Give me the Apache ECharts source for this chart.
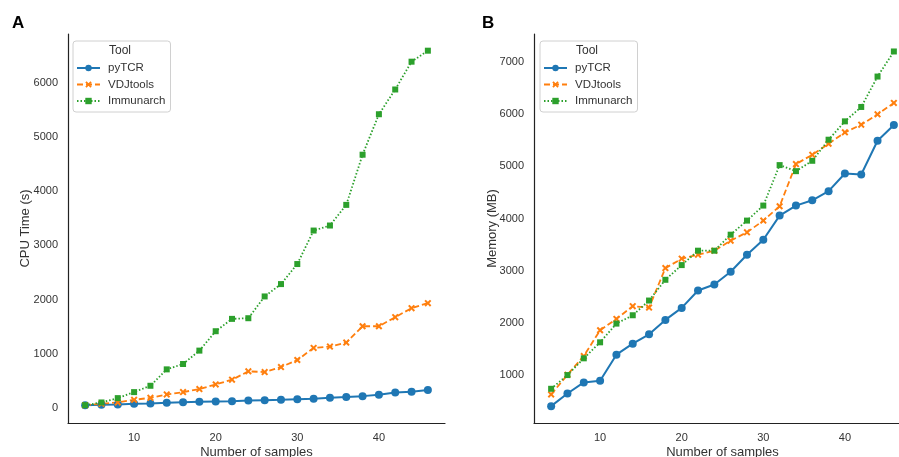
<!DOCTYPE html>
<html>
<head>
<meta charset="utf-8">
<script src="https://cdn.jsdelivr.net/npm/echarts@6/dist/echarts.min.js"></script>
<style>
html,body{margin:0;padding:0;background:#fff;overflow:hidden;}
#chart{width:899px;height:457px;}
</style>
</head>
<body>
<div id="chart"></div>
<script>
var samples = [4,6,8,10,12,14,16,18,20,22,24,26,28,30,32,34,36,38,40,42,44,46];
var tools = ['pyTCR','VDJtools','Immunarch'];

var cpuPyTCR = [49,56,62,74,80,93,105,111,117,123,136,142,148,160,167,185,198,216,241,284,296,327];
var cpuVDJtools = [49,74,99,148,185,247,290,346,432,519,673,660,753,883,1105,1130,1204,1506,1506,1673,1840,1932];
var cpuImmunarch = [49,99,179,290,407,710,809,1056,1414,1642,1654,2056,2284,2654,3272,3365,3746,4672,5419,5876,6389,6592];

var memPyTCR = [404,647,859,891,1391,1603,1782,2058,2288,2622,2737,2981,3308,3596,4058,4250,4352,4526,4865,4846,5494,5795];
var memVDJtools = [628,1006,1365,1859,2077,2321,2295,3051,3231,3308,3385,3577,3737,3962,4237,5045,5224,5436,5654,5801,6000,6218];
var memImmunarch = [737,1000,1321,1628,1987,2147,2429,2827,3109,3385,3385,3692,3962,4250,5026,4910,5109,5513,5865,6141,6724,7205];

var colors = ['#1f77b4','#ff7f0e','#2ca02c'];
var xPath = 'path://M0,2 L2,0 L5,3 L8,0 L10,2 L7,5 L10,8 L8,10 L5,7 L2,10 L0,8 L3,5 Z';
var FONT = 'Liberation Sans, Arial, sans-serif';

function pair(vals){ return samples.map(function(s,i){ return [s, vals[i]]; }); }

function mkSeries(idx, data){
  return [
    {name:tools[0], type:'line', xAxisIndex:idx, yAxisIndex:idx, data:pair(data[0]),
     symbol:'circle', symbolSize:8, showSymbol:true, clip:false,
     lineStyle:{color:colors[0], width:2, type:'solid'}, itemStyle:{color:colors[0]}},
    {name:tools[1], type:'line', xAxisIndex:idx, yAxisIndex:idx, data:pair(data[1]),
     symbol:xPath, symbolSize:7, clip:false,
     lineStyle:{color:colors[1], width:1.8, type:[6,3]}, itemStyle:{color:colors[1]}},
    {name:tools[2], type:'line', xAxisIndex:idx, yAxisIndex:idx, data:pair(data[2]),
     symbol:'rect', symbolSize:6, clip:false,
     lineStyle:{color:colors[2], width:1.8, type:[1.5,2]}, itemStyle:{color:colors[2]}}
  ];
}

function xAx(idx){
  return {type:'value', gridIndex:idx, min:1.9, max:48.1, splitNumber:5,
    name:'Number of samples', nameLocation:'middle', nameGap:23, nameMoveOverlap:false,
    nameTextStyle:{fontSize:13, color:'#333', fontFamily:FONT},
    axisLine:{show:true, onZero:false, lineStyle:{color:'#222', width:1.2}},
    axisTick:{show:false}, splitLine:{show:false},
    axisLabel:{fontSize:11, color:'#333', fontFamily:FONT, margin:9,
      formatter:function(v){ return (Math.abs(v % 10) < 1e-6) ? String(v) : ''; }}};
}
function yAx(idx, name, min, max, gap){
  return {type:'value', gridIndex:idx, min:min, max:max, splitNumber:7,
    name:name, nameLocation:'middle', nameGap:gap, nameRotate:90, nameMoveOverlap:false,
    nameTextStyle:{fontSize:13, color:'#333', fontFamily:FONT},
    axisLine:{show:true, onZero:false, lineStyle:{color:'#222', width:1.2}},
    axisTick:{show:false}, splitLine:{show:false},
    axisLabel:{fontSize:11, color:'#333', fontFamily:FONT, margin:10,
      formatter:function(v){ return (Math.abs(v % 1000) < 1e-6) ? String(v) : ''; }}};
}
function legend(left){
  return {orient:'vertical', left:left, top:41, data:tools,
    itemWidth:23, itemHeight:8, itemGap:4.5,
    padding:[21,5,5,3], backgroundColor:'#fff',
    borderColor:'#d0d0d0', borderWidth:1, borderRadius:3,
    textStyle:{fontSize:11.5, color:'#333', fontFamily:FONT, padding:[0,0,0,3]}};
}

var chart = echarts.init(document.getElementById('chart'), null, {renderer:'canvas'});
chart.setOption({
  animation:false,
  backgroundColor:'#fff',
  grid:[
    {left:68, width:377, top:34, bottom:34, outerBoundsMode:'none', containLabel:false},
    {left:534, width:377, top:34, bottom:34, outerBoundsMode:'none', containLabel:false}
  ],
  xAxis:[xAx(0), xAx(1)],
  yAxis:[yAx(0,'CPU Time (s)',-280,6900,36), yAx(1,'Memory (MB)',81,7540,35)],
  legend:[legend(73), legend(540)],
  graphic:[
    {type:'text', left:12, top:15, style:{text:'A', font:'bold 17px '+FONT, fill:'#000'}},
    {type:'text', left:482, top:15, style:{text:'B', font:'bold 17px '+FONT, fill:'#000'}},
    {type:'text', left:109, top:45, z:100, style:{text:'Tool', font:'12px '+FONT, fill:'#333'}},
    {type:'text', left:576, top:45, z:100, style:{text:'Tool', font:'12px '+FONT, fill:'#333'}}
  ],
  series:[].concat(
    mkSeries(0,[cpuPyTCR,cpuVDJtools,cpuImmunarch]),
    mkSeries(1,[memPyTCR,memVDJtools,memImmunarch])
  )
});
</script>
</body>
</html>
